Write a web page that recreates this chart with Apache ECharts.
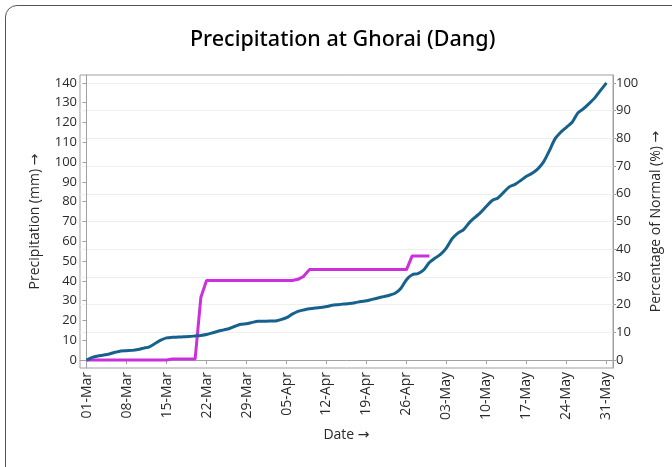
<!DOCTYPE html>
<html>
<head>
<meta charset="utf-8">
<script src="https://cdn.jsdelivr.net/npm/echarts@6/dist/echarts.min.js"></script>
<style>
html,body{margin:0;padding:0;width:672px;height:467px;overflow:hidden;background:#fff;}
#frame{position:absolute;left:5px;top:5px;width:720px;height:520px;border:1.3px solid #555;border-radius:12px;box-sizing:border-box;}
#chart{position:absolute;left:0;top:0;width:672px;height:467px;}
</style>
</head>
<body>
<div id="frame"></div>
<div id="chart"></div>
<script>
// Tick labels of the date axis (day offsets from 01-Mar)
const tickDays = [0, 7, 14, 21, 28, 35, 42, 49, 56, 63, 70, 77, 84, 91];
const tickLabels = ['01-Mar','08-Mar','15-Mar','22-Mar','29-Mar','05-Apr','12-Apr','19-Apr','26-Apr','03-May','10-May','17-May','24-May','31-May'];
const leftTicks = [0,10,20,30,40,50,60,70,80,90,100,110,120,130,140];
const rightTicks = [0,10,20,30,40,50,60,70,80,90,100];

// Blue series: cumulative normal, percent of seasonal normal, one value per day from 01-Mar
const normalPct = [
  0, 1.0, 1.5, 1.8, 2.2, 2.8, 3.3, 3.4, 3.5, 3.8,
  4.3, 4.8, 6.0, 7.2, 8.0, 8.2, 8.3, 8.4, 8.5, 8.7,
  8.9, 9.2, 9.8, 10.4, 10.9, 11.4, 12.2, 12.9, 13.1, 13.6,
  14.0, 14.0, 14.1, 14.1, 14.6, 15.3, 16.6, 17.6, 18.1, 18.5,
  18.8, 19.0, 19.3, 19.8, 20.0, 20.2, 20.4, 20.7, 21.1, 21.4,
  21.9, 22.4, 22.9, 23.4, 24.1, 25.8, 29.0, 30.8, 31.2, 32.5,
  35.2, 36.8, 38.2, 40.5, 43.8, 45.8, 47.1, 49.6, 51.5, 53.3,
  55.5, 57.6, 58.5, 60.5, 62.5, 63.4, 64.8, 66.3, 67.4, 69.0,
  71.5, 75.5, 79.8, 82.2, 84.0, 85.8, 89.2, 90.7, 92.6, 94.7,
  97.4, 100
];

// Magenta series: cumulative actual precipitation (mm), one value per day from 01-Mar
const actualMm = [
  0, 0, 0, 0, 0, 0, 0, 0, 0, 0,
  0, 0, 0, 0, 0, 0.5, 0.5, 0.5, 0.5, 0.5,
  31.6, 40.2, 40.2, 40.2, 40.2, 40.2, 40.2, 40.2, 40.2, 40.2,
  40.2, 40.2, 40.2, 40.2, 40.2, 40.2, 40.2, 40.8, 42.3, 45.7,
  45.7, 45.7, 45.7, 45.7, 45.7, 45.7, 45.7, 45.7, 45.7, 45.7,
  45.7, 45.7, 45.7, 45.7, 45.7, 45.7, 45.7, 52.6, 52.6, 52.6,
  52.6
];

const FONT = '"Open Sans", "DejaVu Sans", sans-serif';
const TXT = '#2a2a2a';
const AX = '#a0a0a0';

const chart = echarts.init(document.getElementById('chart'), null, {renderer: 'canvas'});
chart.setOption({
  animation: false,
  backgroundColor: 'transparent',
  title: {
    text: 'Precipitation at Ghorai (Dang)',
    left: 185,
    top: 24,
    textStyle: {fontFamily: '"Noto Sans", "Open Sans", sans-serif', fontSize: 21.5, fontWeight: 500, color: '#000'}
  },
  grid: {left: 80, right: 59, top: 75, bottom: 99, show: true, borderColor: AX, borderWidth: 1, backgroundColor: 'transparent'},
  xAxis: {
    type: 'value',
    min: -1.15,
    max: 92.15,
    name: 'Date \u2192',
    nameLocation: 'middle',
    nameGap: 55,
    nameTextStyle: {fontFamily: FONT, fontSize: 14, color: TXT},
    axisLine: {show: true, lineStyle: {color: AX}},
    axisTick: {show: true, length: 4, lineStyle: {color: AX}, customValues: tickDays},
    axisLabel: {
      rotate: 90, margin: 4, fontFamily: FONT, fontSize: 14, color: TXT,
      customValues: tickDays,
      formatter: function (v) { const i = tickDays.indexOf(Math.round(v)); return i >= 0 ? tickLabels[i] : ''; }
    },
    splitLine: {show: false}
  },
  yAxis: [
    {
      type: 'value',
      min: -4,
      max: 144,
      name: 'Precipitation (mm) \u2192',
      nameLocation: 'middle',
      nameRotate: 90,
      nameGap: 38,
      nameTextStyle: {fontFamily: FONT, fontSize: 14, color: TXT},
      axisLine: {show: true, lineStyle: {color: AX}},
      axisTick: {show: true, length: 4, lineStyle: {color: AX}, customValues: leftTicks},
      axisLabel: {margin: 3, fontFamily: FONT, fontSize: 13, color: TXT, customValues: leftTicks},
      splitLine: {show: false}
    },
    {
      type: 'value',
      min: -4 / 1.4,
      max: 144 / 1.4,
      position: 'right',
      name: 'Percentage of Normal (%) \u2192',
      nameLocation: 'middle',
      nameRotate: 90,
      nameGap: 30,
      nameTextStyle: {fontFamily: FONT, fontSize: 14, color: TXT},
      axisLine: {show: true, lineStyle: {color: AX}},
      axisTick: {show: true, length: 3, lineStyle: {color: AX}, customValues: rightTicks},
      axisLabel: {margin: 3, fontFamily: FONT, fontSize: 13, color: TXT, customValues: rightTicks},
      splitLine: {show: true, lineStyle: {color: '#efefef', width: 1}}
    }
  ],
  series: [
    {
      type: 'line',
      yAxisIndex: 1,
      data: normalPct.map((v, i) => [i, v]),
      showSymbol: false,
      smooth: 0.25,
      lineStyle: {color: '#17628c', width: 3},
      itemStyle: {color: '#17628c'},
      z: 3
    },
    {
      type: 'line',
      yAxisIndex: 0,
      data: actualMm.map((v, i) => [i, v]),
      showSymbol: false,
      lineStyle: {color: '#cc30dc', width: 3},
      itemStyle: {color: '#cc30dc'},
      z: 2
    }
  ]
});
</script>
</body>
</html>
